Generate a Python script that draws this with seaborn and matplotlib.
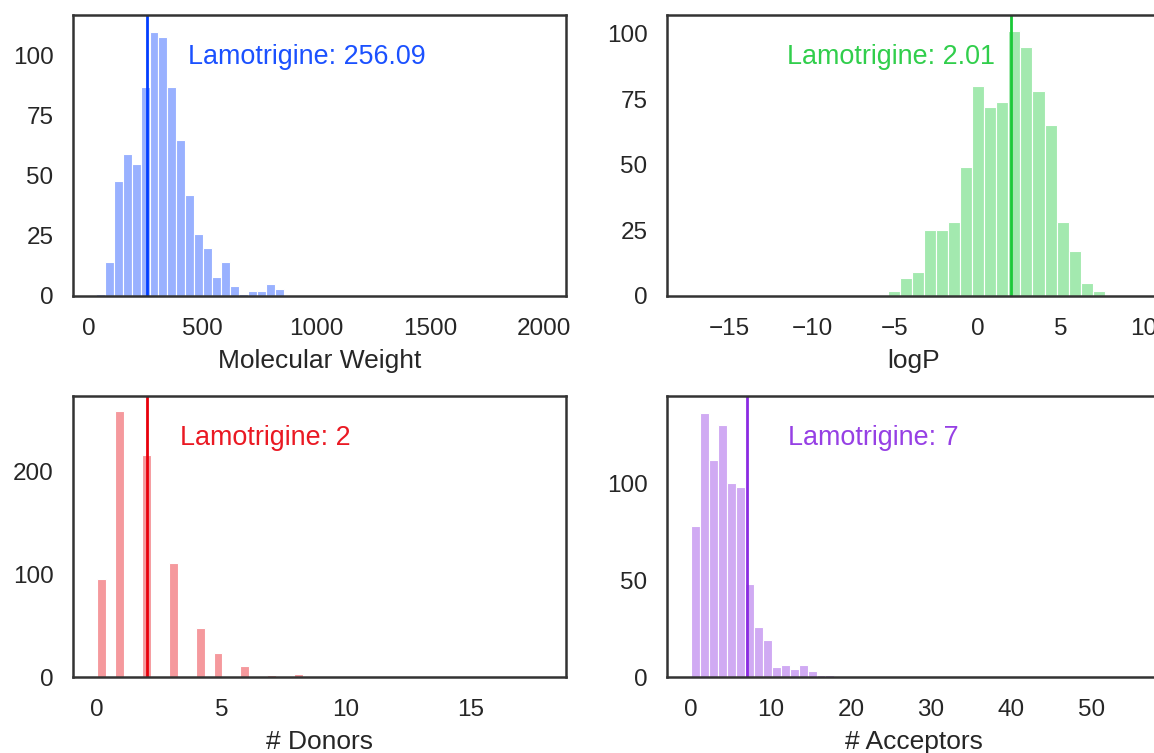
import numpy as np
import matplotlib
matplotlib.use("Agg")
import matplotlib.pyplot as plt
import seaborn as sns

# ---------------- data ----------------
# Molecular weight histogram (bin edges start / width, counts per bin)
mw_start = 30.0
mw_width = 39.4
mw_counts = [1, 14, 48, 59, 55, 87, 110, 108, 87, 65, 42, 26, 20, 8, 14, 4, 1, 2, 2, 5, 3]
mw_lamotrigine = 256.09

# logP histogram
logp_start = -5.44
logp_width = 0.7265
logp_counts = [2, 7, 9, 25, 25, 28, 49, 80, 72, 74, 101, 95, 78, 65, 28, 17, 5, 2]
logp_lamotrigine = 2.01

# Donors (integer values, 50 bins over 0..18)
donor_values = [0, 1, 2, 3, 4, 5, 6, 7, 8]
donor_counts = [95, 258, 216, 111, 48, 23, 11, 2, 3]
donor_range = (0, 18)
donor_lamotrigine = 2

# Acceptors histogram
acc_start = 0.0
acc_width = 1.12
acc_counts = [78, 136, 112, 130, 100, 98, 48, 26, 19, 5, 6, 4, 6, 3, 1, 1]
acc_lamotrigine = 7

xlabels = ["Molecular Weight", "logP", "# Donors", "# Acceptors"]
ann_texts = ["Lamotrigine: 256.09", "Lamotrigine: 2.01", "Lamotrigine: 2", "Lamotrigine: 7"]
# ---------------------------------------------------------------

sns.set_theme(style="white")
plt.rcParams['font.family'] = ['Liberation Sans', 'DejaVu Sans']

pal = sns.color_palette("bright")
colors = [pal[0], pal[2], pal[3], pal[4]]

W, H = 1154, 753
fig = plt.figure(figsize=(W / 100, H / 100), dpi=100)

def fr(x0, y0, x1, y1):
    return [x0 / W, 1 - y1 / H, (x1 - x0) / W, (y1 - y0) / H]

ax_pos = [fr(73, 15, 566, 296), fr(667, 15, 1160, 296),
          fr(73, 396, 566, 677), fr(667, 396, 1160, 677)]
axes = [fig.add_axes(p) for p in ax_pos]

def edges_centers(start, width, n):
    edges = [start + width * k for k in range(n + 1)]
    centers = [(edges[k] + edges[k + 1]) / 2 for k in range(n)]
    return edges, centers

bar_kw = dict(alpha=0.4, edgecolor="white", linewidth=0.8)

# panel 1
e, c = edges_centers(mw_start, mw_width, len(mw_counts))
sns.histplot(x=c, weights=mw_counts, bins=e, color=colors[0], ax=axes[0], **bar_kw)
# panel 2
e, c = edges_centers(logp_start, logp_width, len(logp_counts))
sns.histplot(x=c, weights=logp_counts, bins=e, color=colors[1], ax=axes[1], **bar_kw)
# panel 3
sns.histplot(x=donor_values, weights=donor_counts, bins=50, binrange=donor_range,
             color=colors[2], ax=axes[2], **bar_kw)
# panel 4
e, c = edges_centers(acc_start, acc_width, len(acc_counts))
sns.histplot(x=c, weights=acc_counts, bins=e, color=colors[3], ax=axes[3], **bar_kw)

lam = [mw_lamotrigine, logp_lamotrigine, donor_lamotrigine, acc_lamotrigine]
xlims = [(-70, 2097), (-18.73, 10.96), (-0.97, 18.85), (-3.0, 58.6)]
ylims = [(0, 117), (0, 107), (0, 273), (0, 145)]
yticks = [[0, 25, 50, 75, 100], [0, 25, 50, 75, 100], [0, 100, 200], [0, 50, 100]]
xticks = [[0, 500, 1000, 1500, 2000], [-15, -10, -5, 0, 5, 10], [0, 5, 10, 15],
          [0, 10, 20, 30, 40, 50]]
ann_pos = [(0.233, 'left'), (0.665, 'right'), (0.217, 'left'), (0.245, 'left')]

for i, ax in enumerate(axes):
    ax.axvline(lam[i], color=colors[i], linewidth=2.0)
    ax.set_xlim(*xlims[i])
    ax.set_ylim(*ylims[i])
    ax.set_yticks(yticks[i])
    ax.set_xticks(xticks[i])
    ax.set_ylabel("")
    ax.set_xlabel(xlabels[i], fontsize=19, color=".15", labelpad=6)
    ax.tick_params(axis="x", labelsize=17.5, colors=".15", pad=16, length=0)
    ax.tick_params(axis="y", labelsize=17.5, colors=".15", pad=14, length=0)
    for sp in ax.spines.values():
        sp.set_linewidth(1.8)
        sp.set_color(".2")
    x, ha = ann_pos[i]
    ax.text(x, 0.826, ann_texts[i], transform=ax.transAxes, ha=ha, va="baseline",
            fontsize=19.4, color=colors[i], alpha=0.9)

fig.savefig("out.png", dpi=100)
